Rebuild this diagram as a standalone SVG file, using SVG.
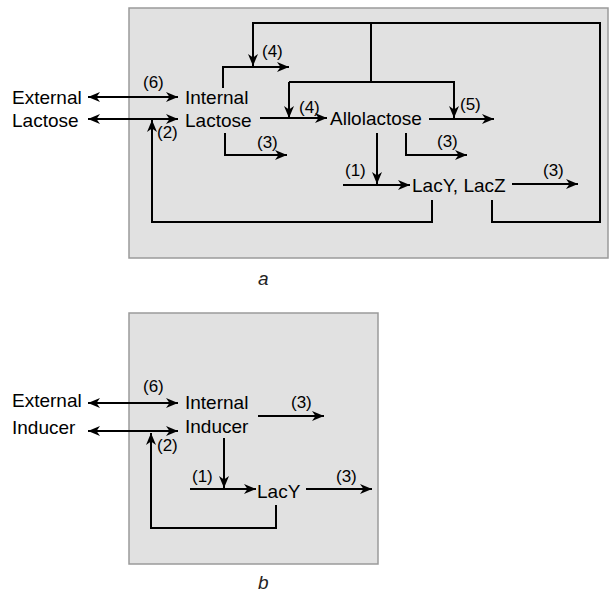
<svg xmlns="http://www.w3.org/2000/svg" width="610" height="594" viewBox="0 0 610 594">
<style>
.box{fill:#e1e1e1;stroke:#9a9a9a;stroke-width:1.5}
.t{font-family:"Liberation Sans",Arial,sans-serif;font-size:19px;fill:#000}
.l{font-family:"Liberation Sans",Arial,sans-serif;font-size:17px;fill:#000}
.cap{font-family:"Liberation Sans",Arial,sans-serif;font-size:19px;font-style:italic;fill:#222}
.c{fill:none;stroke:#000;stroke-width:2}
.a{marker-end:url(#ah)}
.d{marker-start:url(#ah);marker-end:url(#ah)}
</style>
<defs>
<marker id="ah" markerUnits="userSpaceOnUse" markerWidth="13" markerHeight="11" refX="12" refY="5.5" orient="auto-start-reverse" viewBox="0 0 13 11">
<path d="M0,0.5 L12,5.5 L0,10.5 L3.5,5.5 Z" fill="#000"/>
</marker>
</defs>
<rect class="box" x="129" y="8" width="479" height="250"/>
<rect class="box" x="129" y="313" width="249" height="251"/>
<g id="connectors">
<path class="c d" d="M88,97 H178"/>
<path class="c d" d="M88,119 H178"/>
<path class="c a" d="M432,200 V222 H152 V120"/>
<path class="c a" d="M223,88 V67 H289"/>
<path class="c a" d="M492,200 V222 H600 V23 H253 V66"/>
<path class="c" d="M371,23 V82"/>
<path class="c a" d="M289,82 V118"/>
<path class="c a" d="M289,82 H454 V118"/>
<path class="c a" d="M260,118 H327"/>
<path class="c a" d="M429,119 H494"/>
<path class="c a" d="M225,133 V155 H287"/>
<path class="c a" d="M406,133 V155 H467"/>
<path class="c a" d="M377,133 V184"/>
<path class="c a" d="M343,185 H410"/>
<path class="c a" d="M512,184 H578"/>
<path class="c d" d="M88,403 H178"/>
<path class="c d" d="M88,431 H178"/>
<path class="c a" d="M276,505 V528 H151 V433"/>
<path class="c a" d="M258,416 H324"/>
<path class="c a" d="M224,438 V488"/>
<path class="c a" d="M190,489 H256"/>
<path class="c a" d="M306,489 H372"/>
</g>
<g id="a-external-lactose"><text class="t" x="12" y="104">External</text><text class="t" x="12" y="127">Lactose</text></g>
<g id="a-internal-lactose"><text class="t" x="185" y="104">Internal</text><text class="t" x="185" y="127">Lactose</text></g>
<g id="a-allolactose"><text class="t" x="330" y="125">Allolactose</text></g>
<g id="a-lacyz"><text class="t" x="412" y="192">LacY, LacZ</text></g>
<g id="a-labels">
<text class="l" x="143" y="88">(6)</text>
<text class="l" x="157" y="138">(2)</text>
<text class="l" x="262" y="57">(4)</text>
<text class="l" x="299" y="113">(4)</text>
<text class="l" x="257" y="148">(3)</text>
<text class="l" x="460" y="110">(5)</text>
<text class="l" x="437" y="147">(3)</text>
<text class="l" x="345" y="176">(1)</text>
<text class="l" x="543" y="176">(3)</text>
</g>
<text class="cap" x="258" y="285">a</text>
<g id="b-external-inducer"><text class="t" x="12" y="407">External</text><text class="t" x="12" y="434">Inducer</text></g>
<g id="b-internal-inducer"><text class="t" x="185" y="409">Internal</text><text class="t" x="185" y="433">Inducer</text></g>
<g id="b-lacy"><text class="t" x="257" y="498">LacY</text></g>
<g id="b-labels">
<text class="l" x="143" y="392">(6)</text>
<text class="l" x="157" y="451">(2)</text>
<text class="l" x="291" y="408">(3)</text>
<text class="l" x="192" y="482">(1)</text>
<text class="l" x="336" y="482">(3)</text>
</g>
<text class="cap" x="258" y="589">b</text>
</svg>
